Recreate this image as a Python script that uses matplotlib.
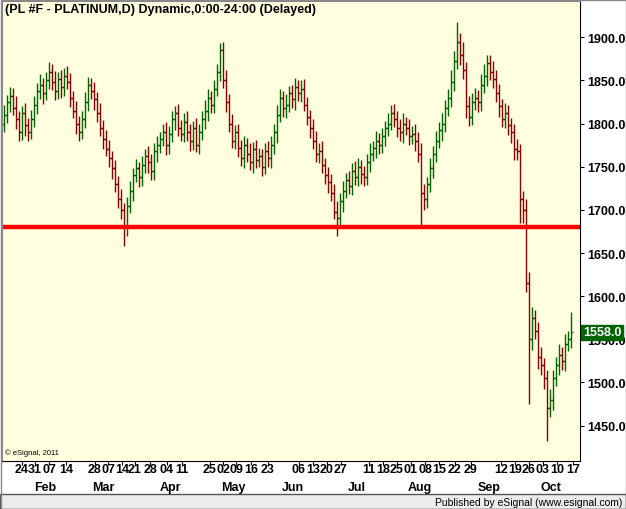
import matplotlib
matplotlib.use("Agg")
import matplotlib.pyplot as plt
from matplotlib.patches import Rectangle

closes = [
1810,1825,1832,1818,1805,1790,1812,1798,1790,1805,
1822,1838,1845,1835,1850,1860,1848,1838,1852,1842,
1855,1848,1830,1815,1800,1790,1805,1825,1845,1838,
1828,1812,1795,1782,1770,1760,1748,1730,1712,1700,
1680,1705,1722,1740,1748,1738,1752,1762,1755,1745,
1768,1775,1782,1790,1775,1788,1805,1812,1795,1788,
1802,1790,1780,1795,1775,1790,1805,1815,1830,1822,
1840,1860,1885,1850,1825,1800,1780,1790,1772,1760,
1775,1765,1755,1770,1758,1762,1750,1768,1760,1775,
1790,1810,1830,1818,1822,1835,1828,1842,1835,1840,
1822,1808,1795,1780,1765,1768,1752,1740,1732,1720,
1698,1690,1710,1722,1735,1728,1745,1738,1750,1742,
1738,1755,1765,1772,1780,1775,1785,1795,1800,1812,
1805,1795,1790,1800,1795,1785,1788,1780,1765,1720,
1712,1730,1748,1765,1780,1792,1800,1818,1830,1848,
1872,1895,1880,1862,1820,1808,1825,1830,1825,1845,
1855,1870,1860,1852,1835,1820,1805,1812,1798,1790,
1770,1768,1712,1700,1615,1550,1575,1560,1530,1520,
1505,1470,1480,1505,1520,1532,1525,1545,1550,1558]

up_ext = [
12,8,10,9,14,10,8,12,9,11, 10,9,12,8,10,11,9,13,8,10,
9,12,10,8,11,9,10,12,9,8, 10,8,12,9,10,11,8,10,9,12,
8,10,12,9,11,8,10,9,12,10, 9,11,8,10,12,9,10,8,11,9,
10,12,9,8,11,10,9,12,10,8, 11,9,8,10,12,9,11,8,10,9,
10,8,12,9,11,10,8,9,12,10, 9,11,10,8,12,9,10,11,8,10,
12,9,8,10,11,9,12,8,10,9, 10,12,9,11,8,10,9,12,10,8,
9,10,12,8,11,9,10,8,12,10, 11,9,10,12,8,10,9,11,10,12,
10,8,12,9,11,10,12,9,10,14, 12,23,10,15,9,12,10,11,9,12,
14,10,9,12,10,11,8,12,10,9, 10,12,8,10,13,13,12,9,10,11,
8,10,12,9,10,12,9,11,10,24]

dn_ext = [
10,9,12,8,11,10,9,12,10,8, 9,11,10,12,8,10,9,11,10,12,
10,8,11,9,12,10,8,10,11,9, 12,10,9,11,8,10,12,9,10,11,
22,10,9,12,8,11,10,9,12,10, 10,12,9,8,11,10,9,12,10,8,
9,10,12,11,8,10,9,11,12,10, 10,8,11,9,12,10,8,10,11,9,
11,10,9,12,10,8,11,9,10,12, 10,12,8,10,11,9,10,12,9,10,
8,10,12,9,10,11,9,10,12,10, 9,20,10,12,8,10,11,9,10,12,
10,9,11,8,12,10,9,11,10,8, 9,11,10,12,8,10,9,12,10,40,
12,10,9,11,10,8,12,10,9,11, 10,9,12,10,14,11,10,9,12,10,
10,12,9,11,10,12,9,10,11,12, 12,10,27,15,10,75,12,10,14,11,
12,38,10,12,9,11,10,12,9,10]

first_open = 1800
support_level = 1680
last_price = 1558.0

day_labels = ["24","31","07","14","28","07","14","21","28","04","11",
              "25","02","09","16","23","06","13","20","27",
              "11","18","25","01","08","15","22","29",
              "12","19","26","03","10","17"]
day_px = [22,35,49,66,95,108,122,135,150,167,182,
          210,223,236,251,268,299,313,327,341,
          369,383,397,411,425,439,455,471,
          501,515,529,543,557,573]
months = ["Feb","Mar","Apr","May","Jun","Jul","Aug","Sep","Oct"]
month_px = [45,103,170,233,293,357,420,489,551]
price_ticks = [1450,1500,1550,1600,1650,1700,1750,1800,1850,1900]

W, H = 626, 510
fig = plt.figure(figsize=(W/100, H/100), dpi=100, facecolor="#ffffff")
bg = "#ffffe0"
ax = fig.add_axes([2/W, (H-462)/H, 578/W, 460/H], facecolor=bg)

def px2i(x):
    return (x-4)/3.0

green, red = "#006400", "#8b0000"
prev = first_open
for i, c in enumerate(closes):
    o = prev
    hi = max(o, c) + up_ext[i]
    lo = min(o, c) - dn_ext[i]
    col = green if c >= o else red
    ax.vlines(i, lo, hi, color=col, lw=1.0)
    ax.hlines(o, i-0.6, i, color=col, lw=1.0)
    ax.hlines(c, i, i+0.6, color=col, lw=1.0)
    prev = c

ax.axhline(support_level, color="#ff0000", lw=3.2)
ax.set_xlim(px2i(2), px2i(580))
ax.set_ylim(1409, 1942)

ax.yaxis.tick_right()
ax.set_yticks(price_ticks)
ax.set_yticklabels([f"{p:.1f}" for p in price_ticks], fontweight="bold",
                   fontsize=9, family="Liberation Sans")
ax.tick_params(axis="y", length=3, pad=2)
ax.set_xticks([px2i(x) for x in day_px])
ax.set_xticklabels([])
ax.tick_params(axis="x", length=3, direction="out")
for s in ["top", "left"]:
    ax.spines[s].set_color("#888888")
for lab, x in zip(day_labels, day_px):
    fig.text(x/W, (H-470)/H, lab, ha="center", va="center", fontsize=9,
             fontweight="bold", family="Liberation Sans")
for lab, x in zip(months, month_px):
    fig.text(x/W, (H-488)/H, lab, ha="center", va="center", fontsize=9,
             fontweight="bold", family="Liberation Sans")

ax.text(0.005, 0.995, "(PL #F - PLATINUM,D) Dynamic,0:00-24:00 (Delayed)",
        transform=ax.transAxes, ha="left", va="top", fontsize=9,
        fontweight="bold", family="Liberation Sans")
ax.text(0.005, 0.01, "© eSignal, 2011", transform=ax.transAxes, ha="left",
        va="bottom", fontsize=5.5, family="Liberation Sans")
ax.text(1.005, last_price, f"{last_price:.1f}", transform=ax.get_yaxis_transform(),
        ha="left", va="center", fontsize=9, fontweight="bold", color="white",
        family="Liberation Sans",
        bbox=dict(boxstyle="square,pad=0.15", fc="#006400", ec="#006400"))

fig.patches.append(Rectangle((0, 0), 1, 15/H, transform=fig.transFigure,
                             fc="#ececec", ec="#555555", lw=1))
fig.text(622/W, 7/H, "Published by eSignal (www.esignal.com)", ha="right",
         va="center", fontsize=7.5, family="Liberation Sans")
fig.patches.append(Rectangle((0.5/W, 0.5/H), 1-1/W, 1-1/H, transform=fig.transFigure,
                             fill=False, ec="#888888", lw=1))
fig.savefig("out.png", dpi=100, facecolor=fig.get_facecolor())
